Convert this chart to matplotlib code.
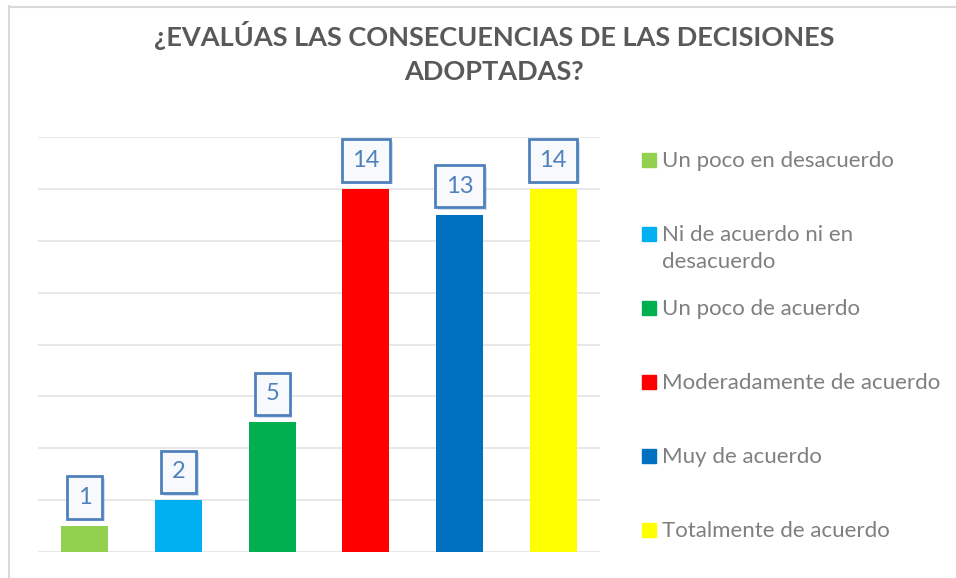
import textwrap
import matplotlib
matplotlib.use("Agg")
import matplotlib.pyplot as plt
import matplotlib.patheffects as pe
from matplotlib.lines import Line2D
from matplotlib.patches import Rectangle

plt.rcParams['font.family'] = ['Lato', 'DejaVu Sans']

# Data
categories = ['Un poco en desacuerdo', 'Ni de acuerdo ni en desacuerdo',
              'Un poco de acuerdo', 'Moderadamente de acuerdo',
              'Muy de acuerdo', 'Totalmente de acuerdo']
values = [1, 2, 5, 14, 13, 14]
colors = ['#92D050', '#00B0F0', '#00B050', '#FF0000', '#0070C0', '#FFFF00']
title = '¿EVALÚAS LAS CONSECUENCIAS DE LAS DECISIONES\nADOPTADAS?'

W, H = 956, 578
fig = plt.figure(figsize=(W / 100, H / 100), dpi=100)
ax = fig.add_axes([38 / W, 26 / H, 562 / W, 415 / H])

x = list(range(len(values)))
bars = ax.bar(x, values, width=0.5, color=colors, zorder=2)

ax.set_xlim(-0.5, len(values) - 0.5)
ax.set_ylim(0, 16)
ax.set_yticks(range(0, 17, 2))
ax.yaxis.grid(True, color='#E6E6E6', linewidth=1.3, zorder=0)
ax.set_axisbelow(True)
ax.tick_params(left=False, bottom=False, labelleft=False, labelbottom=False)
for s in ax.spines.values():
    s.set_visible(False)

# data labels in boxes
for bar, v in zip(bars, values):
    t = ax.annotate(str(v), (bar.get_x() + bar.get_width() / 2, v),
                    xytext=(0, 20.5), textcoords='offset points',
                    ha='center', va='center', fontsize=17, color='#4F81BD',
                    bbox=dict(boxstyle='square,pad=0.45', fc='#F7F9FC',
                              ec='#4F81BD', lw=2), zorder=4)
    t.get_bbox_patch().set_path_effects([
        pe.SimplePatchShadow(offset=(2, -2), shadow_rgbFace='#A9BCD9', alpha=0.5),
        pe.Normal()])

# title
fig.text(494 / W, 1 - 52 / H, title, ha='center', va='center', fontsize=19.5,
         fontweight='bold', color='#595959', linespacing=1.5)

# legend
for i, (cat, col) in enumerate(zip(categories, colors)):
    yc = 160 + 74 * i
    fig.add_artist(Rectangle((642 / W, 1 - (yc + 7) / H), 14 / W, 14 / H,
                             transform=fig.transFigure, color=col))
    fig.text(662 / W, 1 - (yc - 9) / H, textwrap.fill(cat, 24), ha='left',
             va='top', fontsize=16, color='#7F7F7F', linespacing=1.45)

# chart border (left and top visible)
fig.add_artist(Line2D([8.5 / W, 8.5 / W], [0, 1 - 6 / H], transform=fig.transFigure,
                      color='#D9D9D9', lw=1.5))
fig.add_artist(Line2D([8.5 / W, 1], [1 - 6.5 / H, 1 - 6.5 / H], transform=fig.transFigure,
                      color='#D9D9D9', lw=1.5))

fig.savefig('out.png', dpi=100, facecolor='white')
